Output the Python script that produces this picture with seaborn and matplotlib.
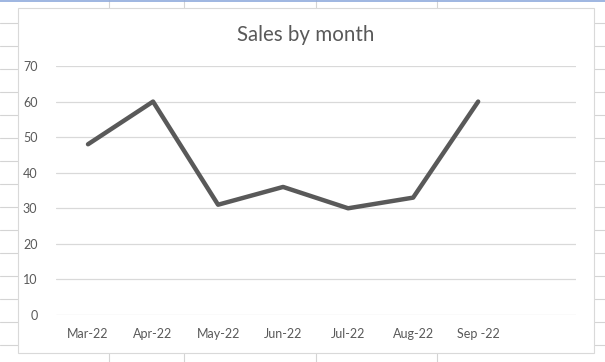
import matplotlib
matplotlib.use("Agg")
import matplotlib.pyplot as plt
from matplotlib.lines import Line2D
from matplotlib.patches import Rectangle
import seaborn as sns
import pandas as pd

months = ["Mar-22", "Apr-22", "May-22", "Jun-22", "Jul-22", "Aug-22", "Sep -22"]
sales = [48, 60, 31, 36, 30, 33, 60]
yticks = [0, 10, 20, 30, 40, 50, 60, 70]
title = "Sales by month"

df = pd.DataFrame({"month": months, "sales": sales})

sns.set_theme(style="white")
plt.rcParams["font.family"] = ["Lato", "DejaVu Sans"]

W, H = 605, 362
fig = plt.figure(figsize=(W / 100, H / 100), dpi=100)
fig.patch.set_facecolor("white")

def fx(x):
    return x / W

def fy(y):
    return 1 - y / H

# spreadsheet cell grid in the background
cell = "#D4D4D4"
for y in range(23, H, 23):
    fig.add_artist(Line2D([0, 1], [fy(y), fy(y)], transform=fig.transFigure, color=cell, lw=0.8, zorder=0))
for x in [109, 184, 316, 437]:
    fig.add_artist(Line2D([fx(x), fx(x)], [0, 1], transform=fig.transFigure, color=cell, lw=0.8, zorder=0))
fig.add_artist(Line2D([0, 1], [fy(0.6), fy(0.6)], transform=fig.transFigure, color="#8EA9DB", lw=1.2, zorder=0))

# chart area
fig.add_artist(Rectangle((fx(17.5), fy(352.5)), fx(594 - 17.5), (352.5 - 7.5) / H,
                         transform=fig.transFigure, facecolor="white", edgecolor="#D9D9D9", lw=0.8, zorder=1))

ax = fig.add_axes([fx(55.5), fy(315), fx(575.7 - 55.5), (315 - 66) / H], zorder=2)
ax.set_facecolor("none")

sns.lineplot(data=df, x="month", y="sales", sort=False, ax=ax, color="#595959", lw=3.2, zorder=3)

ax.set_xlim(-0.5, 7.5)
ax.set_ylim(0, 70)
ax.set_yticks(yticks)
ax.set_yticklabels([str(v) for v in yticks])
ax.set_xticks(range(len(months)))
ax.set_xticklabels(months)
ax.grid(axis="y", color="#D9D9D9", lw=0.9)
ax.grid(axis="x", visible=False)
for s in ax.spines.values():
    s.set_visible(False)
ax.tick_params(axis="both", length=0, colors="#595959", labelsize=9)
ax.tick_params(axis="y", pad=13)
ax.tick_params(axis="x", pad=9)
ax.set_xlabel("")
ax.set_ylabel("")

fig.text(fx(305.5), fy(35), title, ha="center", va="center", fontsize=14.8, color="#595959")

fig.savefig("out.png", dpi=100)
